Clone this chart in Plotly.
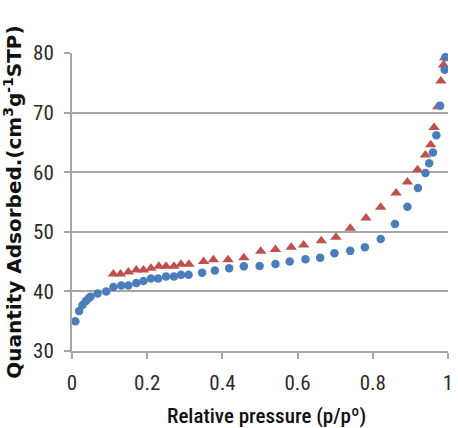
import plotly.graph_objects as go

# Adsorption branch (blue circles)
ads_p = [0.009, 0.019, 0.028, 0.037, 0.045, 0.049, 0.068, 0.091, 0.110, 0.131,
         0.150, 0.171, 0.190, 0.210, 0.229, 0.250, 0.271, 0.290, 0.310, 0.346,
         0.380, 0.418, 0.457, 0.499, 0.541, 0.579, 0.621, 0.660, 0.698, 0.740,
         0.779, 0.821, 0.859, 0.892, 0.920, 0.940, 0.950, 0.960, 0.969, 0.979,
         0.991, 0.993]
ads_q = [35.0, 36.7, 37.7, 38.4, 38.9, 39.1, 39.65, 40.0, 40.75, 41.0,
         41.0, 41.4, 41.75, 42.15, 42.15, 42.5, 42.5, 42.8, 42.8, 43.15,
         43.5, 43.9, 44.2, 44.25, 44.6, 45.0, 45.4, 45.65, 46.4, 46.8,
         47.4, 48.8, 51.3, 54.2, 57.35, 59.85, 61.5, 63.3, 66.2, 71.15,
         77.2, 79.3]

# Desorption branch (red triangles)
des_p = [0.110, 0.129, 0.150, 0.171, 0.190, 0.210, 0.231, 0.250, 0.271, 0.290,
         0.311, 0.350, 0.376, 0.415, 0.457, 0.502, 0.541, 0.583, 0.616, 0.663,
         0.702, 0.740, 0.782, 0.821, 0.862, 0.892, 0.919, 0.940, 0.954, 0.963,
         0.973, 0.981, 0.988, 0.991]
des_q = [42.9, 42.9, 43.25, 43.6, 43.6, 43.9, 44.2, 44.2, 44.2, 44.55,
         44.55, 45.0, 45.3, 45.3, 45.65, 46.75, 47.05, 47.4, 47.8, 48.5,
         49.1, 50.6, 52.3, 54.1, 56.5, 58.35, 60.4, 62.9, 64.6, 67.5,
         71.0, 75.3, 78.0, 79.2]

x_ticks = [0, 0.2, 0.4, 0.6, 0.8, 1]
x_tick_text = ["0", "0.2", "0.4", "0.6", "0.8", "1"]
y_ticks = [30, 40, 50, 60, 70, 80]

x_title = "Relative pressure (p/pº)"
y_title = "<b>Quantity Adsorbed.(cm<sup>3</sup>g<sup>-1</sup>STP)</b>"

grid_color = "#a6a6a6"
narrow = "Roboto Condensed, DejaVu Sans Condensed, sans-serif"
tick_font = dict(family=narrow, size=21, color="#2b2b2b")

fig = go.Figure()
fig.add_trace(go.Scatter(
    x=des_p, y=des_q, mode="markers",
    marker=dict(symbol="triangle-up", size=10, color="#c0504d"),
    showlegend=False))
fig.add_trace(go.Scatter(
    x=ads_p, y=ads_q, mode="markers",
    marker=dict(symbol="circle", size=8.5, color="#4a7ebb"),
    showlegend=False))

# x-axis title sits slightly right of centre and runs off the bottom edge
fig.add_annotation(
    text=x_title, xref="paper", yref="paper", x=0.517, y=0,
    xanchor="center", yanchor="top", yshift=-51, showarrow=False,
    font=dict(family=narrow, size=21, color="#111111", weight=500))

fig.update_layout(
    width=458, height=428,
    margin=dict(l=72, r=5, t=53, b=77),
    paper_bgcolor="white", plot_bgcolor="white",
    xaxis=dict(
        range=[0, 1], tickvals=x_ticks, ticktext=x_tick_text,
        showgrid=False, zeroline=False,
        showline=True, linecolor=grid_color, linewidth=2,
        ticks="outside", ticklen=6, tickcolor=grid_color, tickwidth=2,
        tickfont=tick_font, ticklabelstandoff=6, ticklabeloverflow="allow",
    ),
    yaxis=dict(
        range=[30, 80], tickvals=y_ticks,
        showgrid=True, gridcolor=grid_color, gridwidth=2,
        zeroline=False,
        showline=True, linecolor=grid_color, linewidth=2,
        ticks="outside", ticklen=6, tickcolor=grid_color, tickwidth=2,
        tickfont=tick_font, ticklabelstandoff=6,
        title=dict(text=y_title,
                   font=dict(family="DejaVu Sans", size=20, color="#111111"),
                   standoff=8),
    ),
)

fig.write_html("out.html")
